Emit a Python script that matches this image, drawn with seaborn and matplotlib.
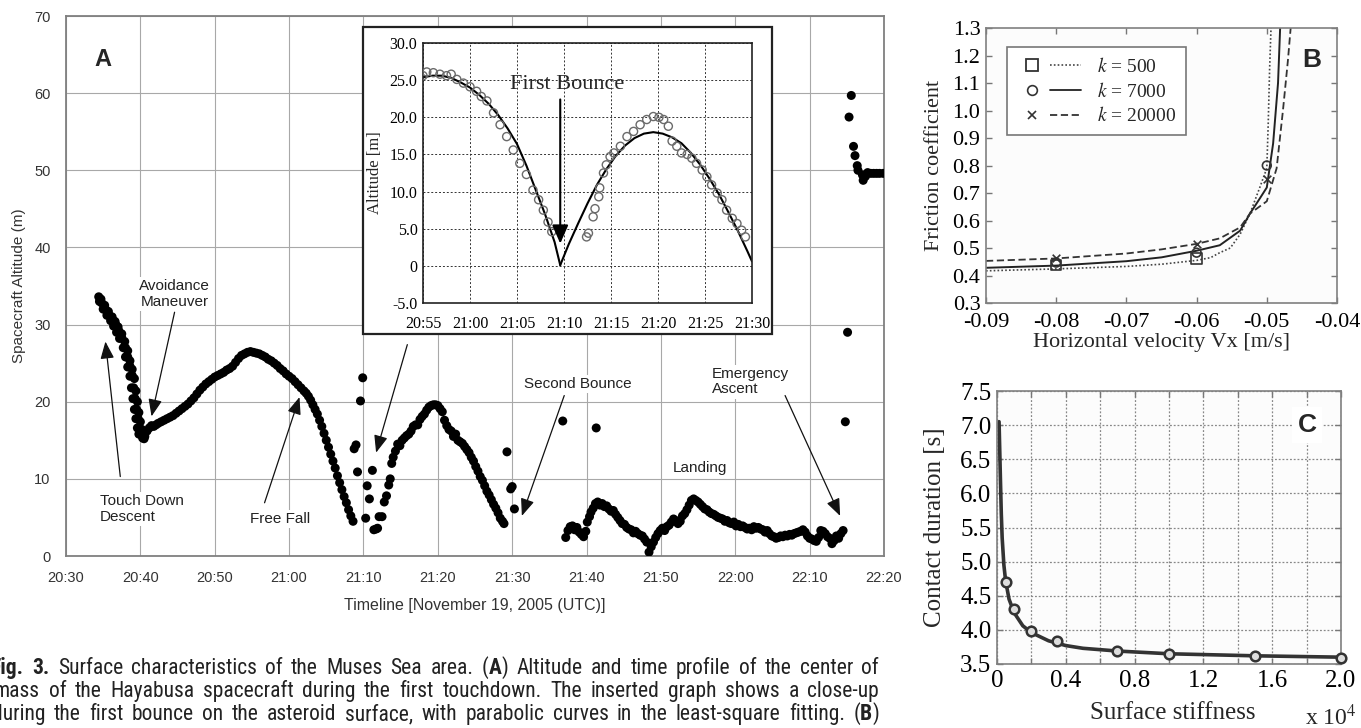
import matplotlib
matplotlib.use("Agg")
import matplotlib.pyplot as plt
import matplotlib.patches as mpatches
from matplotlib.lines import Line2D
from matplotlib.legend_handler import HandlerTuple
from matplotlib import font_manager
import seaborn as sns

# ===================== DATA =====================
# ---- Panel A: altitude (m) vs minutes after 20:30 UTC ----
A_descent = [(4.4,33.6),(4.8,32.8),(5.3,32.0),(5.8,31.2),(6.3,30.6),(6.7,30.0),(7.1,29.2),(7.5,28.3),
             (8.0,27.0),(8.3,25.8),(8.6,24.6),(8.9,23.4),(9.1,21.8),(9.3,20.4),(9.5,19.0),(9.7,17.8),
             (9.9,16.6),(10.1,15.8),(10.3,15.3),(10.5,15.2),
             (4.5,33.0),(5.0,32.0),(5.5,31.2),(6.0,30.5),(6.4,29.8),(6.8,29.0),(7.2,28.2),(7.7,27.0),
             (8.0,25.8),(8.3,24.5),(8.6,23.3),(8.8,21.8),(9.0,20.4),(9.2,19.0),(9.4,17.8),(9.6,16.6),(9.8,15.8),
             (4.7,33.3),(5.2,32.5),(5.7,31.7),(6.2,31.0),(6.6,30.4),(7.0,29.7),(7.5,28.8),(7.9,27.8),
             (8.3,26.6),(8.6,25.3),(8.9,24.2),(9.2,23.0),(9.4,21.4),(9.6,20.0),(9.8,18.6),(10.0,17.4),
             (10.2,16.4),(10.4,15.8)]
A_rise1 = [(10.6,15.5),(10.9,16.2),(11.2,16.6),(11.5,16.9),(11.8,16.8),(12.1,17.0),(12.4,17.2),(12.8,17.4),
           (13.2,17.6),(13.6,17.8),(14.0,18.0),(14.4,18.2),(14.8,18.5),(15.2,18.8),(15.6,19.1),(16.0,19.4),
           (16.4,19.7),(16.8,20.1),(17.2,20.5),(17.6,21.0),(18.0,21.5),(18.4,21.9),(18.8,22.3),(19.2,22.6),
           (19.6,22.9),(20.0,23.2),(20.4,23.4),(20.8,23.6),(21.2,23.8),(21.6,24.1),(22.0,24.3),(22.4,24.6),
           (22.8,25.1),(23.2,25.6),(23.6,26.0),(24.0,26.2),(24.4,26.4),(24.8,26.5)]
A_fall1 = [(25.2,26.4),(25.6,26.3),(26.0,26.2),(26.4,26.0),(26.8,25.8),(27.2,25.5),(27.6,25.3),(28.0,25.0),
           (28.4,24.7),(28.8,24.3),(29.2,24.0),(29.6,23.6),(30.0,23.3),(30.4,23.0),(30.8,22.6),(31.2,22.2),
           (31.6,21.8),(32.0,21.4),(32.3,21.1),(32.6,20.7),(32.9,20.2),(33.2,19.6),(33.5,19.0),(33.8,18.4),
           (34.1,17.6),(34.4,16.8),(34.7,15.9),(35.0,15.0),(35.3,14.1),(35.6,13.2),(35.9,12.3),(36.2,11.4),
           (36.5,10.4),(36.8,9.5),(37.1,8.6),(37.4,7.7),(37.7,6.9),(38.0,6.0),(38.3,5.2),(38.6,4.5)]
A_bounce1 = [(38.75,13.9),(39.0,14.4),(39.2,10.9),(39.6,20.1),(39.9,23.1),(40.3,4.9),(40.5,9.1),
             (40.8,7.4),(41.2,11.1),(41.4,3.4),(41.7,3.5),(41.9,3.6),(42.1,5.1),(42.5,5.1)]
A_rise2 = [(42.8,7.0),(43.1,7.8),(43.4,9.2),(43.6,10.0),(43.8,12.0),(44.0,12.8),(44.3,13.6),(44.6,14.5),
           (44.9,14.3),(45.2,15.0),(45.5,15.3),(45.8,15.6),(46.1,15.8),(46.4,16.2),(46.7,16.8),(47.0,17.0),
           (47.3,17.0),(47.6,17.7),(47.9,18.1),(48.2,18.4),(48.5,18.9),(48.8,19.3),(49.1,19.5),(49.4,19.6),
           (49.7,19.6),(50.0,19.5),(50.3,19.1)]
A_fall2 = [(50.6,18.7),(50.9,17.6),(51.2,16.9),(51.5,16.4),(51.8,16.2),(52.1,15.5),(52.4,15.8),(52.7,15.0),
           (53.0,14.8),(53.3,14.6),(53.6,14.2),(53.9,13.8),(54.2,13.4),(54.5,12.8),(54.8,12.3),(55.1,11.6),
           (55.4,11.0),(55.7,10.3),(56.0,9.8),(56.3,9.1),(56.6,8.4),(56.9,7.9),(57.2,7.3),(57.5,6.7),
           (57.8,6.2),(58.1,5.6),(58.4,4.9),(58.7,4.5),(58.9,4.2)]
A_bounce2 = [(59.3,13.5),(59.8,8.7),(60.0,9.0),(60.3,6.1),(66.8,17.5),(71.3,16.6)]
A_landing = [(67.2,2.4),(67.5,3.3),(67.8,3.8),(68.1,3.9),(68.4,3.4),(68.7,3.7),(69.0,3.1),(69.3,2.8),
             (69.6,2.5),(69.9,3.2),(70.1,4.4),(70.4,5.1),(70.6,5.7),(70.9,6.2),(71.2,6.8),(71.5,7.0),
             (71.8,6.6),(72.1,6.8),(72.4,6.4),(72.7,6.5),(73.0,6.1),(73.3,5.8),(73.6,5.9),(73.9,5.4),
             (74.2,5.0),(74.5,4.6),(74.8,4.2),(75.1,4.1),(75.4,3.7),(75.7,3.5),(76.0,3.4),(76.3,3.0),
             (76.6,3.2),(76.9,2.9),(77.2,2.7),(77.5,2.6),(77.8,2.2),(78.1,1.8),(78.4,0.5),(78.7,1.2),
             (79.0,1.8),(79.3,2.4),(79.6,2.9),(79.9,3.3),(80.2,3.6),(80.5,3.3),(80.8,3.8),(81.1,4.0),
             (81.4,4.4),(81.7,4.8),(82.0,4.6),(82.3,4.2),(82.6,4.5),(82.9,5.2),(83.2,5.5),(83.5,6.0),
             (83.8,6.6),(84.1,7.2),(84.4,7.4),(84.7,7.2),(85.0,7.0),(85.3,6.7),(85.6,6.4),(85.9,6.1),
             (86.2,6.0),(86.5,5.7),(86.8,5.5),(87.1,5.4),(87.4,5.2),(87.7,5.0),(88.0,4.9),(88.3,4.8),
             (88.6,4.5),(88.9,4.6),(89.2,4.3),(89.5,4.2),(89.8,4.4),(90.1,3.9),(90.4,4.1),(90.7,3.8),
             (91.0,3.9),(91.3,3.7),(91.6,3.5),(91.9,3.6),(92.2,3.4),(92.5,3.8),(92.8,3.6),(93.1,3.7),
             (93.4,3.5),(93.7,3.4),(94.0,3.1),(94.3,3.3),(94.6,2.9),(94.9,2.6),(95.2,2.5),(95.5,2.3),
             (95.8,2.4),(96.1,2.6),(96.4,2.5),(96.7,2.7),(97.0,2.6),(97.3,2.8),(97.6,2.7),(97.9,2.9),
             (98.2,3.0),(98.5,3.1),(98.8,3.2),(99.1,3.4),(99.4,3.1),(99.7,2.6),(100.0,2.3),(100.3,2.2),
             (100.6,2.0),(100.9,1.9),(101.2,2.4),(101.5,3.3),(101.8,3.2),(102.1,2.9),(102.4,2.5),(102.7,2.3),
             (103.0,1.6),(103.3,2.0),(103.6,2.6),(103.9,2.3),(104.2,2.9),(104.5,3.3)]
A_ascent = [(104.8,17.4),(105.1,29.0),(105.6,59.7),(105.3,56.9),(105.9,53.1),(106.1,51.9),(106.4,50.6),
            (106.5,50.0),(107.1,49.4),(107.2,48.7),(107.5,49.2),(107.8,49.7),(108.2,49.6),(108.6,49.6),
            (109.0,49.6),(109.4,49.6),(109.9,49.6)]
A_xtick_pos = [0, 10, 20, 30, 40, 50, 60, 70, 80, 90, 100, 110]
A_xtick_labels = ["20:30", "20:40", "20:50", "21:00", "21:10", "21:20", "21:30",
                  "21:40", "21:50", "22:00", "22:10", "22:20"]
A_ytick_pos = [0, 10, 20, 30, 40, 50, 60, 70]

# ---- Inset: minutes after 20:55 ----
I_obs_t = [0,0.4,1.1,1.8,2.5,3.0,3.6,4.3,5.0,5.7,6.2,6.8,7.5,8.2,8.9,9.6,10.3,11.0,11.7,12.3,12.8,13.3,13.7,
           17.4,17.6,18.1,18.3,18.7,18.8,19.2,19.5,19.9,20.3,21.0,21.7,22.4,23.1,23.8,24.5,25.1,25.6,26.1,
           26.5,27.0,27.5,28.1,28.6,29.1,29.7,30.2,30.7,31.3,31.8,32.3,32.9,33.4,33.9,34.3]
I_obs_alt = [25.6,26.1,26.0,25.8,25.6,25.8,25.1,24.6,24.1,23.5,22.8,22.2,20.6,19.0,17.4,15.6,13.8,12.3,10.2,8.9,7.5,5.9,4.6,
             3.9,4.4,6.6,7.7,9.3,10.5,12.5,13.6,14.7,15.2,16.1,17.4,18.1,19.0,19.7,20.1,20.0,19.7,18.8,
             16.8,16.1,15.2,15.0,14.5,13.8,12.9,12.0,10.9,9.8,8.9,7.5,6.4,5.7,4.8,3.9]
I_fit1_t = [0, 1, 2, 3, 4, 5, 6, 7, 8, 9, 10, 11, 12, 13, 14, 14.6]
I_fit1_alt = [25.4, 25.6, 25.6, 25.3, 24.7, 24.0, 23.0, 21.8, 20.3, 18.5, 16.4, 13.5, 10.2, 6.9, 3.2, 0.1]
I_fit2_t = [14.6, 15.5, 16.5, 17.5, 18.5, 19.5, 20.5, 21.5, 22.5, 23.5, 24.5, 25.5, 26.5, 27.5, 28.5,
            29.5, 30.5, 31.5, 32.5, 33.5, 34.5, 35]
I_fit2_alt = [0.1, 2.9, 5.7, 8.4, 10.9, 13.0, 14.8, 16.2, 17.2, 17.8, 18.0, 17.8, 17.3, 16.5, 15.2,
              13.6, 11.7, 9.6, 7.2, 4.7, 2.0, 0.6]
I_xtick_pos = [0, 5, 10, 15, 20, 25, 30, 35]
I_xtick_labels = ["20:55", "21:00", "21:05", "21:10", "21:15", "21:20", "21:25", "21:30"]
I_ytick_pos = [-5, 0, 5, 10, 15, 20, 25, 30]
I_ytick_labels = ["-5.0", "0", "5.0", "10.0", "15.0", "20.0", "25.0", "30.0"]

# ---- Panel B: friction coefficient vs horizontal velocity ----
B_k500_x = [-0.09, -0.08, -0.07, -0.065, -0.06, -0.058, -0.0567, -0.0552, -0.0538, -0.0524,
            -0.051, -0.050, -0.0498, -0.0496, -0.0494]
B_k500_y = [0.417, 0.424, 0.433, 0.441, 0.455, 0.465, 0.483, 0.50, 0.55, 0.625, 0.72, 0.79, 0.95, 1.15, 1.3]
B_k7000_x = [-0.09, -0.08, -0.07, -0.065, -0.06, -0.0567, -0.0538, -0.0524, -0.051, -0.050,
             -0.0491, -0.0484, -0.0481]
B_k7000_y = [0.428, 0.436, 0.452, 0.466, 0.49, 0.51, 0.563, 0.625, 0.68, 0.72, 0.88, 1.10, 1.30]
B_k20000_x = [-0.09, -0.08, -0.07, -0.065, -0.06, -0.0567, -0.0538, -0.0524, -0.050, -0.0486,
              -0.0477, -0.0470, -0.0466]
B_k20000_y = [0.453, 0.462, 0.48, 0.495, 0.515, 0.535, 0.575, 0.625, 0.67, 0.79, 1.0, 1.18, 1.3]
B_sq_x, B_sq_y = [-0.08, -0.06], [0.437, 0.462]
B_ci_x, B_ci_y = [-0.08, -0.06, -0.05], [0.447, 0.483, 0.80]
B_xx_x, B_xx_y = [-0.08, -0.06, -0.05], [0.462, 0.515, 0.75]
B_labels = ["500", "7000", "20000"]
B_xticks = [-0.09, -0.08, -0.07, -0.06, -0.05, -0.04]
B_xtick_labels = ["-0.09", "-0.08", "-0.07", "-0.06", "-0.05", "-0.04"]
B_yticks = [0.3, 0.4, 0.5, 0.6, 0.7, 0.8, 0.9, 1.0, 1.1, 1.2, 1.3]

# ---- Panel C: contact duration vs surface stiffness (x 10^4) ----
C_curve_x = [0.012, 0.02, 0.025, 0.03, 0.04, 0.05, 0.07, 0.10, 0.15, 0.20, 0.30, 0.40, 0.50, 0.70, 1.0, 1.5, 2.0]
C_curve_y = [7.05, 6.2, 5.7, 5.35, 4.95, 4.72, 4.45, 4.25, 4.06, 3.96, 3.84, 3.77, 3.73, 3.69, 3.65, 3.62, 3.60]
C_pts_x = [0.05, 0.10, 0.20, 0.35, 0.70, 1.0, 1.5, 2.0]
C_pts_y = [4.70, 4.30, 3.98, 3.84, 3.69, 3.65, 3.62, 3.59]
C_xticks = [0, 0.2, 0.4, 0.6, 0.8, 1.0, 1.2, 1.4, 1.6, 1.8, 2.0]
C_xtick_labels = ["0", "", "0.4", "", "0.8", "", "1.2", "", "1.6", "", "2.0"]
C_yticks = [3.5, 4.0, 4.5, 5.0, 5.5, 6.0, 6.5, 7.0, 7.5]

# ---- Caption (bold runs between asterisks) ----
caption_lines = [
    "*Fig. 3.* Surface characteristics of the Muses Sea area. (*A*) Altitude and time profile of the center of",
    "mass of the Hayabusa spacecraft during the first touchdown. The inserted graph shows a close-up",
    "during the first bounce on the asteroid surface, with parabolic curves in the least-square fitting. (*B*)",
]

# ===================== STYLE =====================
sns.set_theme(style="white")
SANS = ["Liberation Sans", "DejaVu Sans"]
SERIF = ["Liberation Serif", "DejaVu Serif"]
plt.rcParams["font.family"] = SANS
plt.rcParams["mathtext.fontset"] = "stix"

W, H = 1361, 728
fig = plt.figure(figsize=(W / 100, H / 100), dpi=100)
fig.patch.set_facecolor("white")


def rect(l, t, r, b):
    return [l / W, 1 - b / H, (r - l) / W, (b - t) / H]


def unzip(*segs):
    xs, ys = [], []
    for seg in segs:
        for x, y in seg:
            xs.append(x)
            ys.append(y)
    return xs, ys


def style_ticklabels(ax, family, size, color="black"):
    for lbl in ax.get_xticklabels() + ax.get_yticklabels():
        lbl.set_fontfamily(family)
        lbl.set_fontsize(size)
        lbl.set_color(color)


# ===================== PANEL A =====================
axA = fig.add_axes(rect(66, 16, 884, 556))
axA.set_facecolor("white")
A_t, A_alt = unzip(A_descent, A_rise1, A_fall1, A_bounce1, A_rise2, A_fall2, A_bounce2, A_landing, A_ascent)
sns.scatterplot(x=A_t, y=A_alt, ax=axA, color="black", s=42, edgecolor="none", zorder=3, legend=False)
axA.set_xlim(0, 110)
axA.set_ylim(0, 70)
axA.set_xticks(A_xtick_pos, A_xtick_labels)
axA.set_yticks(A_ytick_pos, [str(v) for v in A_ytick_pos])
axA.grid(True, color="#a8a8a8", lw=0.8)
axA.set_axisbelow(True)
for sp in axA.spines.values():
    sp.set_visible(True)
    sp.set_color("#808080")
    sp.set_linewidth(1.3)
axA.tick_params(length=0)
axA.tick_params(axis="x", pad=11)
axA.tick_params(axis="y", pad=11)
style_ticklabels(axA, SANS, 10.5, "#333333")
axA.set_ylabel("Spacecraft Altitude (m)", fontsize=11, family=SANS, color="#333333")
axA.yaxis.set_label_coords(-0.058, 0.5)
axA.yaxis.label.set_va("center")
axA.set_xlabel("Timeline [November 19, 2005 (UTC)]", fontsize=11.5, family=SANS, color="#333333")
axA.xaxis.set_label_coords(0.5, -0.091)
axA.xaxis.label.set_va("center")

TBOX = dict(facecolor="white", edgecolor="none", pad=1.5)
ARW = dict(arrowstyle="-|>,head_length=0.75,head_width=0.3", color="#111111", lw=0.9,
           mutation_scale=14, shrinkA=0, shrinkB=0)
axA.text(5.0, 64.4, "A", fontsize=17, fontweight="bold", ha="center", va="center", family=SANS)
axA.text(14.6, 34.0, "Avoidance\nManeuver", fontsize=11, ha="center", va="center",
         color="#222222", linespacing=1.15, bbox=TBOX, zorder=4)
axA.text(4.6, 6.1, "Touch Down\nDescent", fontsize=11, ha="left", va="center",
         color="#222222", linespacing=1.15, bbox=TBOX, zorder=4)
axA.text(28.8, 4.8, "Free Fall", fontsize=11, ha="center", va="center", color="#222222", bbox=TBOX, zorder=4)
axA.text(68.8, 22.3, "Second Bounce", fontsize=11, ha="center", va="center", color="#222222", bbox=TBOX, zorder=4)
axA.text(85.3, 11.4, "Landing", fontsize=11, ha="center", va="center", color="#222222", bbox=TBOX, zorder=4)
axA.text(86.8, 22.6, "Emergency\nAscent", fontsize=11, ha="left", va="center",
         color="#222222", linespacing=1.15, bbox=TBOX, zorder=4)
for tail, head in [((7.3, 10.3), (5.3, 27.8)), ((14.6, 31.6), (11.5, 18.1)),
                   ((26.7, 6.9), (31.4, 20.6)), ((45.9, 27.4), (41.7, 13.4)),
                   ((67.0, 20.8), (61.3, 5.2)), ((96.7, 20.8), (104.1, 5.2))]:
    axA.annotate("", xy=head, xytext=tail, arrowprops=ARW, zorder=4)

# ===================== INSET =====================
frame = mpatches.Rectangle((363 / W, 1 - 334 / H), (772 - 363) / W, (334 - 27) / H,
                           transform=fig.transFigure, facecolor="white", edgecolor="#222222",
                           lw=1.6, zorder=1)
fig.add_artist(frame)
axI = fig.add_axes(rect(423, 43, 752, 303))
axI.set_zorder(2)
axI.set_facecolor("white")
sns.lineplot(x=I_fit1_t, y=I_fit1_alt, ax=axI, color="black", lw=1.5, sort=False, estimator=None)
sns.lineplot(x=I_fit2_t, y=I_fit2_alt, ax=axI, color="black", lw=1.5, sort=False, estimator=None)
sns.scatterplot(x=I_obs_t, y=I_obs_alt, ax=axI, marker="o", s=34, facecolor="none",
                edgecolor="#6a6a6a", linewidth=1.0, zorder=3, legend=False)
axI.set_xlim(0, 35)
axI.set_ylim(-5, 30)
axI.set_xticks(I_xtick_pos, I_xtick_labels)
axI.set_yticks(I_ytick_pos, I_ytick_labels)
axI.grid(True, color="#333333", lw=0.7, linestyle=(0, (2, 2)))
for sp in axI.spines.values():
    sp.set_visible(True)
    sp.set_color("#222222")
    sp.set_linewidth(1.2)
axI.tick_params(length=0)
axI.tick_params(axis="x", pad=9)
axI.tick_params(axis="y", pad=4)
style_ticklabels(axI, SERIF, 11.5)
axI.set_ylabel("Altitude [m]", family=SERIF, fontsize=12)
axI.yaxis.set_label_coords(-0.147, 0.5)
axI.yaxis.label.set_va("center")
axI.text(15.3, 24.4, "First Bounce", family=SERIF, fontsize=16, ha="center", va="center")
axI.annotate("", xy=(14.6, 3.0), xytext=(14.6, 22.4),
             arrowprops=dict(arrowstyle="-|>,head_length=0.8,head_width=0.35", color="black",
                             lw=1.5, mutation_scale=14, shrinkA=0, shrinkB=0))

# ===================== PANEL B =====================
axB = fig.add_axes(rect(986, 28, 1337, 303))
axB.set_facecolor("#fcfcfc")
sns.lineplot(x=B_k500_x, y=B_k500_y, ax=axB, color="#444444", lw=1.2, linestyle=(0, (1, 1.3)),
             sort=False, estimator=None)
sns.lineplot(x=B_k7000_x, y=B_k7000_y, ax=axB, color="#222222", lw=1.4, sort=False, estimator=None)
sns.lineplot(x=B_k20000_x, y=B_k20000_y, ax=axB, color="#333333", lw=1.3, linestyle=(0, (4, 2)),
             sort=False, estimator=None)
sns.scatterplot(x=B_sq_x, y=B_sq_y, ax=axB, marker="s", s=55, facecolor="none", edgecolor="#333333",
                linewidth=1.2, zorder=4, legend=False)
sns.scatterplot(x=B_ci_x, y=B_ci_y, ax=axB, marker="o", s=40, facecolor="none", edgecolor="#333333",
                linewidth=1.2, zorder=4, legend=False)
sns.scatterplot(x=B_xx_x, y=B_xx_y, ax=axB, marker="x", s=30, color="#333333", linewidth=1.2,
                zorder=4, legend=False)
axB.set_xlim(-0.09, -0.04)
axB.set_ylim(0.3, 1.3)
axB.set_xticks(B_xticks, B_xtick_labels)
axB.set_yticks(B_yticks, [f"{v:.1f}" for v in B_yticks])
for sp in axB.spines.values():
    sp.set_visible(True)
    sp.set_color("#808080")
    sp.set_linewidth(1.2)
axB.tick_params(direction="in", length=4, width=1, color="#777777", top=True, right=True,
                bottom=True, left=True, pad=4)
axB.tick_params(axis="x", pad=7)
style_ticklabels(axB, SERIF, 16)
axB.set_ylabel("Friction coefficient", family=SERIF, fontsize=16)
axB.yaxis.set_label_coords(-0.147, 0.5)
axB.yaxis.label.set_va("center")
axB.set_xlabel("Horizontal velocity Vx [m/s]", family=SERIF, fontsize=16)
axB.xaxis.set_label_coords(0.5, -0.145)
axB.xaxis.label.set_va("center")
hB = [
    (Line2D([], [], marker="s", ls="none", mfc="none", mec="#333333", ms=8, mew=1.3),
     Line2D([], [], color="#444444", lw=1.2, ls=(0, (1, 1.3)))),
    (Line2D([], [], marker="o", ls="none", mfc="none", mec="#333333", ms=7, mew=1.2),
     Line2D([], [], color="#222222", lw=1.3)),
    (Line2D([], [], marker="x", ls="none", color="#333333", ms=6, mew=1.2),
     Line2D([], [], color="#333333", lw=1.3, ls=(0, (4, 2)))),
]
legB = axB.legend(handles=hB, labels=[rf"$k$ = {v}" for v in B_labels],
                  handler_map={tuple: HandlerTuple(ndivide=None, pad=0.15)},
                  loc="upper left", bbox_to_anchor=(0.06, 0.931), borderaxespad=0,
                  frameon=True, fancybox=False, edgecolor="#777777", framealpha=1,
                  prop={"family": SERIF, "size": 14}, handlelength=3.3, handletextpad=0.8,
                  labelspacing=0.3, borderpad=0.5)
legB.get_frame().set_linewidth(1.2)
fig.text(1312 / W, 1 - 60 / H, "B", fontsize=19, fontweight="bold", family=SANS, ha="center", va="center")

# ===================== PANEL C =====================
axC = fig.add_axes(rect(997, 391, 1341, 664))
axC.set_facecolor("#fcfcfc")
sns.lineplot(x=C_curve_x, y=C_curve_y, ax=axC, color="#333333", lw=2.6, sort=False, estimator=None)
sns.scatterplot(x=C_pts_x, y=C_pts_y, ax=axC, marker="o", s=48, facecolor="#dddddd", edgecolor="#333333",
                linewidth=1.8, zorder=4, legend=False, clip_on=False)
axC.set_xlim(0, 2.0)
axC.set_ylim(3.5, 7.5)
axC.set_xticks(C_xticks, C_xtick_labels)
axC.set_yticks(C_yticks, [f"{v:.1f}" for v in C_yticks])
axC.grid(True, color="#888888", lw=0.9, linestyle=(0, (1.5, 1.5)))
axC.set_axisbelow(True)
for sp in axC.spines.values():
    sp.set_visible(True)
    sp.set_color("#808080")
    sp.set_linewidth(1.2)
axC.tick_params(direction="in", length=4, width=1, color="#777777", top=True, right=True,
                bottom=True, left=True, pad=4)
style_ticklabels(axC, SERIF, 18)
axC.set_ylabel("Contact duration [s]", family=SERIF, fontsize=18)
axC.yaxis.set_label_coords(-0.18, 0.5)
axC.yaxis.label.set_va("center")
axC.set_xlabel("Surface stiffness", family=SERIF, fontsize=18)
axC.xaxis.set_label_coords(0.512, -0.18)
axC.xaxis.label.set_va("center")
fig.text(1331 / W, 1 - 717 / H, r"x 10$^4$", family=SERIF, fontsize=17, ha="center", va="center")
fig.text(1307 / W, 1 - 425 / H, "C", fontsize=19, fontweight="bold", family=SANS, ha="center", va="center",
         bbox=dict(facecolor="white", edgecolor="none", pad=4))

# ===================== CAPTION =====================
names = {f.name for f in font_manager.fontManager.ttflist}
cap_family = "Liberation Sans"
for cand in ["Liberation Sans Narrow", "Roboto Condensed", "Open Sans Condensed", "Noto Sans Condensed"]:
    if cand in names:
        cap_family = cand
        break


def parse(s):
    words, cur, bold, buf = [], [], False, ""
    for ch in s:
        if ch == "*":
            if buf:
                cur.append((buf, bold))
                buf = ""
            bold = not bold
        elif ch == " ":
            if buf:
                cur.append((buf, bold))
                buf = ""
            if cur:
                words.append(cur)
            cur = []
        else:
            buf += ch
    if buf:
        cur.append((buf, bold))
    if cur:
        words.append(cur)
    return words


fig.canvas.draw()
renderer = fig.canvas.get_renderer()
line_x0 = [-9, -6, -8]
line_x1 = 879
baselines = [674, 697, 720]
base_size = 13.5


def text_width(s, size, bold=False):
    t = fig.text(0.5, 0.5, s, fontsize=size, family=cap_family, fontweight="bold" if bold else "normal")
    w = t.get_window_extent(renderer).width
    t.remove()
    return w


# font size chosen so the tightest line fills the justified width with normal word spacing
sizes = []
for s, x0 in zip(caption_lines, line_x0):
    wn = text_width(s.replace("*", ""), base_size)
    sizes.append(base_size * (line_x1 - x0) / wn)
cap_size = min(min(sizes), 15.5)

for s, x0, yb in zip(caption_lines, line_x0, baselines):
    words = parse(s)
    widths = [[text_width(r, cap_size, b) for r, b in w] for w in words]
    total = sum(sum(ws) for ws in widths)
    gap = (line_x1 - x0 - total) / (len(words) - 1)
    x = x0
    for w, ws in zip(words, widths):
        xx = x
        for (r, b), rw in zip(w, ws):
            fig.text(xx / W, 1 - yb / H, r, fontsize=cap_size, family=cap_family,
                     fontweight="bold" if b else "normal", ha="left", va="baseline", color="#222222")
            xx += rw
        x += sum(ws) + gap

fig.savefig("out.png", dpi=100, facecolor="white")
